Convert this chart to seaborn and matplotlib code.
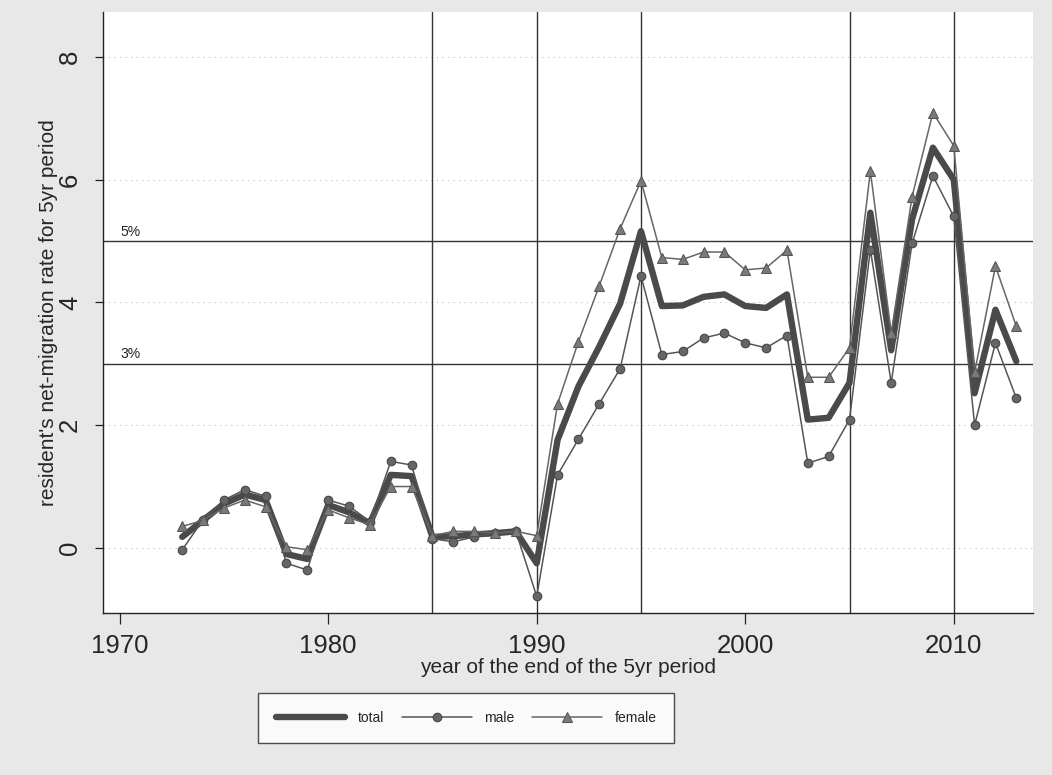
import numpy as np
import pandas as pd
import matplotlib
matplotlib.use("Agg")
import matplotlib.pyplot as plt
import seaborn as sns

years = list(range(1973, 2014))
total = [0.18, 0.45, 0.72, 0.87, 0.78, -0.10, -0.18, 0.70, 0.58, 0.40, 1.19, 1.17,
         0.18, 0.19, 0.22, 0.24, 0.27, -0.25, 1.76, 2.63, 3.28, 3.98, 5.16, 3.94,
         3.95, 4.09, 4.13, 3.94, 3.91, 4.13, 2.09, 2.12, 2.69, 5.46, 3.22, 5.35,
         6.52, 6.00, 2.52, 3.88, 3.04]
male = [-0.03, 0.46, 0.78, 0.95, 0.84, -0.25, -0.36, 0.78, 0.68, 0.43, 1.41, 1.35,
        0.15, 0.10, 0.18, 0.24, 0.27, -0.79, 1.19, 1.77, 2.35, 2.92, 4.43, 3.15,
        3.20, 3.42, 3.50, 3.34, 3.26, 3.46, 1.38, 1.49, 2.09, 4.86, 2.69, 4.96,
        6.06, 5.40, 2.00, 3.34, 2.44]
female = [0.35, 0.45, 0.65, 0.78, 0.67, 0.02, -0.03, 0.62, 0.49, 0.38, 1.00, 1.00,
          0.20, 0.27, 0.27, 0.24, 0.27, 0.20, 2.35, 3.36, 4.27, 5.20, 5.98, 4.73,
          4.70, 4.82, 4.82, 4.53, 4.56, 4.85, 2.78, 2.78, 3.26, 6.14, 3.50, 5.72,
          7.09, 6.55, 2.86, 4.59, 3.61]
ref_levels = [3, 5]
ref_labels = ["3%", "5%"]
vlines = [1985, 1990, 1995, 2005, 2010]
xticks = [1970, 1980, 1990, 2000, 2010]
yticks = [0, 2, 4, 6, 8]

df = pd.DataFrame({"year": years, "total": total, "male": male, "female": female})

sns.set_style("white")
plt.rcParams['font.family'] = ['Liberation Sans', 'DejaVu Sans']

fig = plt.figure(figsize=(10.52, 7.75), dpi=100, facecolor="#e8e8e8")
ax = fig.add_axes([103/1052, 1 - 613/775, (1033 - 103)/1052, (613 - 12)/775])
ax.set_facecolor("white")

# gridlines
for yv in yticks:
    ax.axhline(yv, color="#bbbbbb", lw=0.8, ls=(0, (1, 4)), zorder=0)
for lv, lab in zip(ref_levels, ref_labels):
    ax.axhline(lv, color="#333333", lw=1.0, zorder=1)
    ax.text(1970.05, lv + 0.04, lab, fontsize=10, ha="left", va="bottom", color="#222222")
for xv in vlines:
    ax.axvline(xv, color="#333333", lw=1.0, zorder=1)

sns.lineplot(data=df, x="year", y="total", ax=ax, color="#4a4a4a", lw=4.6,
             label="total", zorder=3)
sns.lineplot(data=df, x="year", y="male", ax=ax, color="#555555", lw=1.1,
             marker="o", markersize=6.2, markeredgecolor="#444444",
             markerfacecolor="#666666", label="male", zorder=4)
sns.lineplot(data=df, x="year", y="female", ax=ax, color="#666666", lw=1.1,
             marker="^", markersize=7.2, markeredgecolor="#555555",
             markerfacecolor="#7a7a7a", label="female", zorder=4)

ax.set_xlim(1969.2, 2013.8)
ax.set_ylim(-1.06, 8.73)
ax.set_xticks(xticks)
ax.set_yticks(yticks)
ax.set_xticklabels([str(x) for x in xticks], fontsize=18.5)
ax.set_yticklabels([str(y) for y in yticks], fontsize=18.5, rotation=90, va="center")
ax.tick_params(axis="x", direction="out", length=8, width=0.9, color="#222222",
               bottom=True, pad=7)
ax.tick_params(axis="y", direction="out", length=6, width=0.9, color="#222222",
               left=True, pad=9)
for s in ["top", "right"]:
    ax.spines[s].set_visible(False)
for s in ["left", "bottom"]:
    ax.spines[s].set_color("#222222")
    ax.spines[s].set_linewidth(1.0)

ax.set_xlabel("year of the end of the 5yr period", fontsize=15, labelpad=0)
ax.set_ylabel("resident's net-migration rate for 5yr period", fontsize=15, labelpad=0)

ax.get_legend().remove()
h, l = ax.get_legend_handles_labels()
leg = fig.legend(h, l, ncol=3, loc="center", bbox_to_anchor=(466/1052, 1 - 718/775),
                 fontsize=10, frameon=True, fancybox=False, edgecolor="#222222",
                 handlelength=5.0, columnspacing=1.3, handletextpad=0.9,
                 borderpad=1.3)
leg.get_frame().set_linewidth(1.0)

fig.savefig("out.png", dpi=100, facecolor=fig.get_facecolor())
